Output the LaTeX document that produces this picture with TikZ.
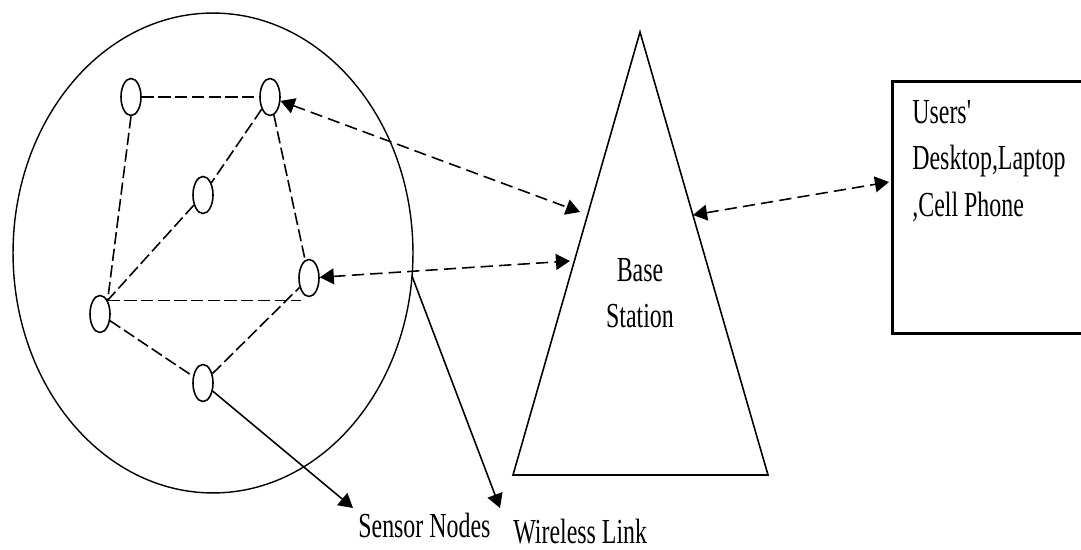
\documentclass[tikz,border=0pt]{standalone}
\usepackage{fontspec}
\newfontfamily\figfont[FakeStretch=0.68]{Liberation Serif}
\usepackage{tikz}
\usetikzlibrary{arrows.meta,shapes.geometric}

\begin{document}
\begin{tikzpicture}[
  x=0.02cm, y=-0.02cm,
  font=\figfont\fontsize{20}{26.5}\selectfont,
  sn/.style={draw, ellipse, line width=0.9pt, minimum width=0.4cm, minimum height=0.74cm, inner sep=0pt},
  lnk/.style={line width=0.9pt, dash pattern=on 7pt off 2.5pt},
  dbl/.style={line width=0.9pt, dash pattern=on 7pt off 3.5pt,
    {Triangle[length=8pt,width=9pt]}-{Triangle[length=8pt,width=9pt]}},
  ptr/.style={line width=0.9pt, -{Triangle[length=8pt,width=9pt]}},
  lbl/.style={inner sep=0pt, align=left}
]
\useasboundingbox (0,0) rectangle (1081,550);

% Sensor field
\draw[line width=0.8pt] (213,253) ellipse [x radius=4cm, y radius=4.8cm];
\node[sn] (A) at (131,97) {};
\node[sn] (B) at (270,97) {};
\node[sn] (C) at (203,195) {};
\node[sn] (D) at (309,278) {};
\node[sn] (E) at (100,314) {};
\node[sn] (F) at (203,383) {};
\draw[lnk] (A) -- (B);
\draw[lnk] (A.south) -- (E.north east);
\draw[lnk] (B) -- (C);
\draw[lnk] (C) -- (E.north east);
\draw[lnk] (B) -- (D);
\draw[lnk] (E.north east) -- (E.north east -| D.south west);
\draw[lnk] (E) -- (F);
\draw[lnk] (F) -- (D);

% Base station
\draw[line width=0.9pt] (640,32) -- (768,475) -- (513,475) -- cycle;
\node[lbl, align=center, anchor=north] (bs) at (640,258) {Base\\Station};
\coordinate (bs1) at (580,212);
\coordinate (bs2) at (570,261);
\coordinate (bs3) at (693,215);

% Users box
\node[draw, line width=1.7pt, minimum width=4.2cm, minimum height=5.04cm, anchor=north west] (users) at (891,80) {};
\node[lbl, anchor=north west] (ustxt) at (912,100) {Users'\\Desktop,Laptop\\,Cell Phone};
\coordinate (us1) at (889,182);

% Wireless links
\draw[dbl] (B) -- (bs1);
\draw[dbl] (D) -- (bs2);
\draw[dbl] (bs3) -- (us1);

% Labels
\node[lbl, anchor=north west] (snlbl) at (358,513) {Sensor Nodes};
\node[lbl, anchor=north west] (wllbl) at (513,519) {Wireless Link};
\coordinate (wl) at (412,276);
\draw[ptr] (F) -- ([shift={(-5,-5)}]snlbl.north west);
\draw[ptr] (wl) -- ([shift={(-13,-11)}]wllbl.north west);
\end{tikzpicture}
\end{document}
